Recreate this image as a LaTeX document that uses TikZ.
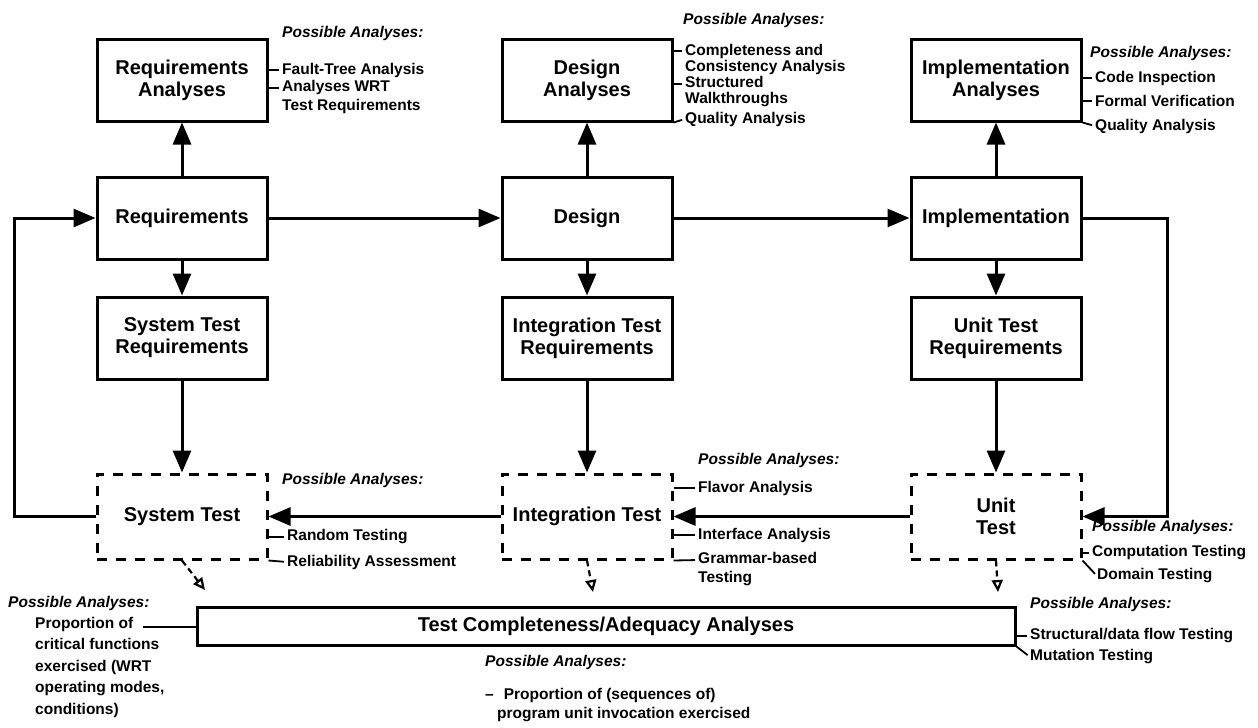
\documentclass[tikz,border=0pt]{standalone}
\usepackage{fontspec}
\setmainfont{Liberation Sans}
\usetikzlibrary{positioning,arrows.meta}

\tikzset{
  stage/.style={draw, line width=3pt, minimum width=170pt, minimum height=82pt,
    align=center, font=\fontsize{20}{22}\selectfont\bfseries},
  testbox/.style={stage, minimum height=85pt, dash pattern=on 10pt off 9pt},
  note/.style={anchor=west, align=left, inner sep=0pt, font=\fontsize{15.5}{19}\selectfont\bfseries},
  notehead/.style={note, font=\fontsize{15.5}{19}\selectfont\bfseries\itshape},
  flow/.style={line width=3pt, -{Triangle[length=22pt,width=18pt]}},
  tick/.style={line width=1.8pt, shorten >=3pt},
  adequacy/.style={line width=2.2pt, dash pattern=on 6pt off 4pt, -{Triangle[open,length=12pt,width=11pt]}}
}

\begin{document}
\begin{tikzpicture}[x=1pt,y=-1pt]
\useasboundingbox (0,0) rectangle (1258,728);

% development stages
\node[stage] (req) at (182,218) {Requirements};
\node[stage] (design) at (587,218) {Design};
\node[stage] (impl) at (996,218) {Implementation};

% analyses above
\node[stage, above=53pt of req] (reqan) {Requirements\\Analyses};
\node[stage, above=53pt of design] (designan) {Design\\Analyses};
\node[stage, above=53pt of impl] (implan) {Implementation\\Analyses};

% test requirements below
\node[stage, below=35pt of req] (streq) {System Test\\Requirements};
\node[stage, below=35pt of design] (itreq) {Integration Test\\Requirements};
\node[stage, below=35pt of impl] (utreq) {Unit Test\\Requirements};

% tests (dashed)
\node[testbox, below=92pt of streq] (sys) {System Test};
\node[testbox, below=92pt of itreq] (integ) {Integration Test};
\node[testbox, below=92pt of utreq] (unit) {Unit\\Test};

% test adequacy box
\node[stage, minimum width=818pt, minimum height=38pt] (adeq) at (606,626) {Test Completeness/Adequacy Analyses};

% arrows
\draw[flow] (req) -- (reqan);
\draw[flow] (design) -- (designan);
\draw[flow] (impl) -- (implan);
\draw[flow] (req) -- (design);
\draw[flow] (design) -- (impl);
\draw[flow] (req) -- (streq);
\draw[flow] (design) -- (itreq);
\draw[flow] (impl) -- (utreq);
\draw[flow] (streq) -- (sys);
\draw[flow] (itreq) -- (integ);
\draw[flow] (utreq) -- (unit);
\draw[flow] (unit) -- (integ);
\draw[flow] (integ) -- (sys);
\draw[flow] (impl.east) -- ++(85,0) |- (unit.east);
\draw[flow] (sys.west) -- ++(-81,0) |- (req.west);

% dashed arrows to adequacy analyses
\coordinate (sysend) at (205,590);
\coordinate (integend) at (593,592);
\coordinate (unitend) at (998,592);
\draw[adequacy] (sys.south) -- (sysend);
\draw[adequacy] (integ.south) -- (integend);
\draw[adequacy] (unit.south) -- (unitend);

% requirements analyses notes
\node[notehead] (pareq) at (282,33) {Possible Analyses:};
\node[note] (fta) at (282,70) {Fault-Tree Analysis};
\node[note] (wrt) at (282,97) {Analyses WRT\\Test Requirements};
\draw[tick] (reqan.east |- fta.west) -- (fta.west);
\draw[tick] (reqan.east |- wrt.west) ++(0,-9) -- ([yshift=9pt]wrt.west);

% design analyses notes
\node[notehead] (padesign) at (683,20) {Possible Analyses:};
\node[note, font=\fontsize{15.5}{16}\selectfont\bfseries] (cca) at (685,59) {Completeness and\\Consistency Analysis};
\node[note, font=\fontsize{15.5}{16}\selectfont\bfseries] (walk) at (685,92) {Structured\\Walkthroughs};
\node[note] (dqa) at (685,119) {Quality Analysis};
\draw[tick] (designan.east |- cca.west) ++(0,-8) -- ([yshift=8pt]cca.west);
\draw[tick] (designan.east |- walk.west) ++(0,-8) -- ([yshift=8pt]walk.west);
\draw[tick] (designan.south east) -- (dqa.west);

% implementation analyses notes
\node[notehead] (paimpl) at (1090,53) {Possible Analyses:};
\node[note] (insp) at (1095,78) {Code Inspection};
\node[note] (verif) at (1095,101) {Formal Verification};
\node[note] (iqa) at (1095,126) {Quality Analysis};
\draw[tick] (implan.east |- insp.west) -- (insp.west);
\draw[tick] (implan.east |- verif.west) -- (verif.west);
\draw[tick] (implan.south east) -- (iqa.west);

% system test notes
\node[notehead] (pasys) at (282,480) {Possible Analyses:};
\node[note] (rand) at (287,537) {Random Testing};
\node[note] (relia) at (287,562) {Reliability Assessment};
\draw[tick] (sys.east |- rand.west) -- (rand.west);
\draw[tick] (sys.south east) -- (relia.west);

% integration test notes
\node[notehead] (paint) at (698,460) {Possible Analyses:};
\node[note] (flavor) at (698,488) {Flavor Analysis};
\node[note] (iface) at (698,535) {Interface Analysis};
\node[note] (gram) at (698,569) {Grammar-based\\Testing};
\draw[tick] (integ.east |- flavor.west) -- (flavor.west);
\draw[tick] (integ.east |- iface.west) -- (iface.west);
\draw[tick] (integ.south east) -- ([yshift=9pt]gram.west);

% unit test notes
\node[notehead] (paunit) at (1092,527) {Possible Analyses:};
\node[note] (comp) at (1092,553) {Computation Testing};
\node[note] (domain) at (1097,576) {Domain Testing};
\draw[tick] (unit.east |- comp.west) -- (comp.west);
\draw[tick] (unit.south east) -- (domain.west);

% adequacy notes
\node[notehead] (paleft) at (8,603) {Possible Analyses:};
\node[note, anchor=north west, font=\fontsize{15.5}{21.5}\selectfont\bfseries] (crit) at (35,617)
  {Proportion of\\critical functions\\exercised (WRT\\operating modes,\\conditions)};
\coordinate (critend) at (140,627);
\draw[tick] (adeq.west |- critend) -- (critend);
\node[notehead] (pamid) at (485,662) {Possible Analyses:};
\node[note] (seq) at (485,705) {--\hspace{10pt}Proportion of (sequences of)\\\hspace*{12pt}program unit invocation exercised};
\node[notehead] (paright) at (1030,604) {Possible Analyses:};
\node[note] (struct) at (1030,636) {Structural/data flow Testing};
\node[note] (mut) at (1030,657) {Mutation Testing};
\draw[tick] (adeq.east |- struct.west) -- (struct.west);
\draw[tick] (adeq.south east) -- (mut.west);

\end{tikzpicture}
\end{document}
